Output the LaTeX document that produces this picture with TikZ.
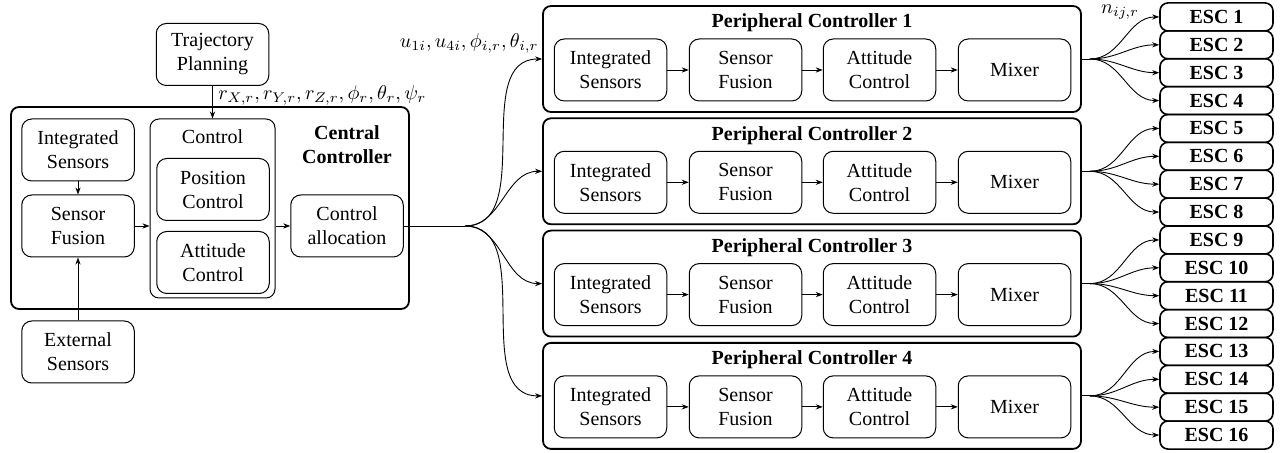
\documentclass[tikz,border=0pt]{standalone}
\usepackage{fontspec}
\setmainfont{Liberation Serif}
\usetikzlibrary{arrows.meta}
\begin{document}
\begin{tikzpicture}[x=0.5pt,y=-0.5pt,
  blk/.style={draw, rounded corners=5pt, minimum width=56.25pt, minimum height=31pt,
    align=center, inner sep=0pt, line width=0.5pt},
  outer/.style={draw, rounded corners=4pt, line width=0.9pt, inner sep=0pt},
  inbox/.style={draw, rounded corners=4.5pt, line width=0.5pt, inner sep=0pt},
  esc/.style={draw, rounded corners=4pt, line width=0.8pt, minimum width=56.5pt,
    minimum height=14pt, inner sep=0pt, font=\bfseries},
  arr/.style={-{Stealth[length=3.5pt,width=2.6pt]}, line width=0.45pt},
  wire/.style={line width=0.45pt}]
\useasboundingbox (0,0) rectangle (1281,453);

% ---------- central controller ----------
\node[outer, minimum width=199pt, minimum height=101pt] (cc) at (210,208) {};
\node[inbox, minimum width=62.5pt, minimum height=89.5pt] (ctrl) at (212.5,208.5) {};
\node (ctrltxt) at (212.5,137) {Control};
\node[font=\bfseries, align=center] (cctxt) at (347,145) {Central\\Controller};

\node[blk] (tp) at (212.5,54.5) {Trajectory\\Planning};
\node[blk] (is) at (78,150) {Integrated\\Sensors};
\node[blk] (sf) at (78,226) {Sensor\\Fusion};
\node[blk] (es) at (78,352) {External\\Sensors};
\node[blk] (pos) at (213,189.5) {Position\\Control};
\node[blk] (att) at (213,262.5) {Attitude\\Control};
\node[blk] (ca) at (347,226) {Control\\allocation};

\draw[arr] (tp) -- (ctrl.north);
\draw[arr] (is) -- (sf);
\draw[arr] (es) -- (sf);
\draw[arr] (sf.east) -- (sf.east -| ctrl.west);
\draw[arr] (ctrl.east |- ca.west) -- (ca.west);

\node[anchor=west, inner sep=0pt] (rlab) at (218,95)
  {$r_{X,r}, r_{Y,r}, r_{Z,r}, \phi_r, \theta_r, \psi_r$};
\node[anchor=east, inner sep=0pt] (ulab) at (539,43)
  {$u_{1i}, u_{4i}, \phi_{i,r}, \theta_{i,r}$};
\node[inner sep=0pt] (nlab) at (1120,12) {$n_{ij,r}$};

\coordinate (split) at (465,226);
\draw[wire] (ca.east) -- (split);

% ---------- ESC column ----------
\foreach \j in {1,...,16} {
  \pgfmathsetmacro{\ey}{3+27.875*(\j-0.5)}
  \node[esc] (esc\j) at (1216.5,\ey) {ESC \j};
}

% ---------- peripheral controllers ----------
\foreach \k in {1,2,3,4} {
  \pgfmathsetmacro{\py}{59+112.3*(\k-1)}
  \pgfmathsetmacro{\iy}{\py+11}
  \pgfmathsetmacro{\ty}{\py-36}
  \node[outer, minimum width=269pt, minimum height=53pt] (pc\k) at (812,\py) {};
  \node[font=\bfseries] (pct\k) at (812,\ty) {Peripheral Controller \k};
  \node[blk] (pis\k) at (610.5,\iy) {Integrated\\Sensors};
  \node[blk] (psf\k) at (745.5,\iy) {Sensor\\Fusion};
  \node[blk] (pac\k) at (879.5,\iy) {Attitude\\Control};
  \node[blk] (mx\k) at (1014.5,\iy) {Mixer};
  \draw[arr] (pis\k) -- (psf\k);
  \draw[arr] (psf\k) -- (pac\k);
  \draw[arr] (pac\k) -- (mx\k);
  \draw[arr] (split) to[out=0,in=180] (pc\k.west);
  \coordinate (mk\k) at ([xshift=4pt]pc\k.east);
  \draw[wire] (pc\k.east) -- (mk\k);
  \foreach \m in {1,2,3,4} {
    \pgfmathtruncatemacro{\e}{4*(\k-1)+\m}
    \draw[arr] (mk\k) to[out=0,in=180] (esc\e.west);
  }
}
\end{tikzpicture}
\end{document}
